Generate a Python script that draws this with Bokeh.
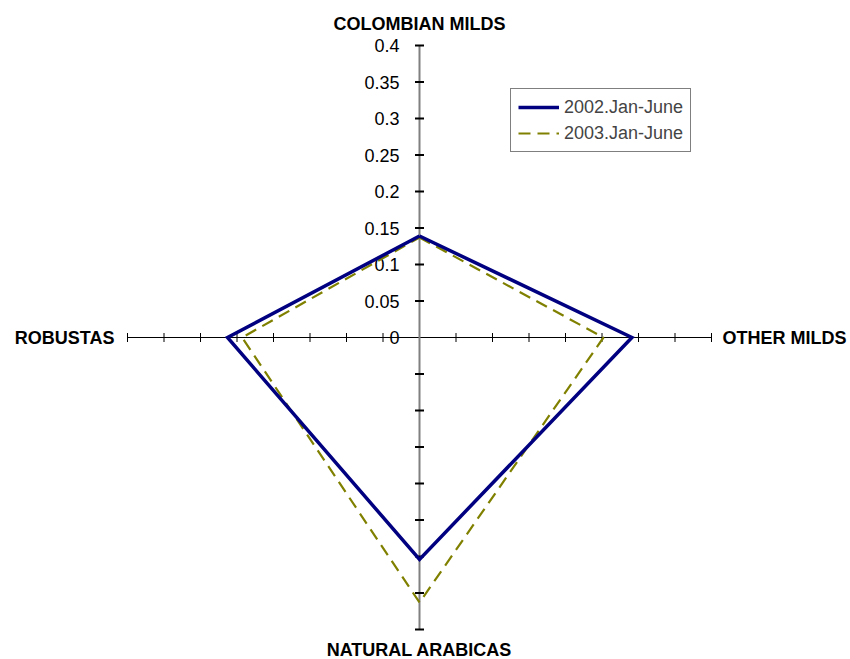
import numpy as np
from bokeh.plotting import figure
from bokeh.models import Range1d, Legend, LegendItem
from bokeh.core.properties import value
from bokeh.embed import file_html
from bokeh.resources import INLINE

# ---- data ----
categories = ["COLOMBIAN MILDS", "OTHER MILDS", "NATURAL ARABICAS", "ROBUSTAS"]
series_names = ["2002.Jan-June", "2003.Jan-June"]
values_2002 = [0.139, 0.291, 0.304, 0.263]
values_2003 = [0.137, 0.252, 0.363, 0.243]
tick_values = [0, 0.05, 0.1, 0.15, 0.2, 0.25, 0.3, 0.35, 0.4]
tick_labels = ["0", "0.05", "0.1", "0.15", "0.2", "0.25", "0.3", "0.35", "0.4"]

# ---- layout ----
W, H = 850, 659
SCALE = 730.0          # pixels per unit
CX, CY = 419, 337      # centre in figure pixels (from top-left)
RMAX = tick_values[-1]
FONT = "Liberation Sans"

angles = np.deg2rad([90, 0, -90, 180])

p = figure(width=W, height=H, output_backend="svg", toolbar_location=None,
           x_range=Range1d(-CX / SCALE, (W - CX) / SCALE),
           y_range=Range1d(-(H - CY) / SCALE, CY / SCALE),
           min_border=0, outline_line_color=None)
p.axis.visible = False
p.grid.visible = False
p.background_fill_color = "white"
p.border_fill_color = "white"

# axes lines
p.line([-RMAX, RMAX], [0, 0], line_color="black", line_width=1)
p.line([0, 0], [-RMAX, RMAX], line_color="#808080", line_width=2)

# ticks
tv = np.array(tick_values[1:])
p.scatter(np.concatenate([tv, -tv]), np.zeros(2 * len(tv)), marker="dash",
          size=9, angle=np.pi / 2, line_color="black", line_width=1)
p.scatter(np.zeros(2 * len(tv)), np.concatenate([tv, -tv]), marker="dash",
          size=9, angle=0, line_color="black", line_width=2)

# tick labels
p.text(x=[0] * len(tick_values), y=tick_values, text=tick_labels,
       text_align="right", text_baseline="middle", x_offset=-20,
       text_font=value(FONT), text_font_size="18px", text_color="black")

# category labels
ex = RMAX * np.cos(angles)
ey = RMAX * np.sin(angles)
aligns = ["center", "left", "center", "right"]
xo = [0, 11, 0, -13]
yo = [-22, 0, 20, 0]
for i, c in enumerate(categories):
    p.text(x=[ex[i]], y=[ey[i]], text=[c], text_align=aligns[i],
           text_baseline="middle", x_offset=xo[i], y_offset=yo[i],
           text_font=value(FONT), text_font_size="18px",
           text_font_style="bold", text_color="black")

def closed(vals):
    v = np.array(vals + vals[:1])
    a = np.concatenate([angles, angles[:1]])
    return v * np.cos(a), v * np.sin(a)

x1, y1 = closed(values_2002)
x2, y2 = closed(values_2003)
r2 = p.line(x2, y2, line_color="#808000", line_width=2.2, line_dash="12 7")
r1 = p.line(x1, y1, line_color="#000080", line_width=3.5, line_join="miter")

legend = Legend(items=[LegendItem(label=series_names[0], renderers=[r1]),
                       LegendItem(label=series_names[1], renderers=[r2])],
                location=(510, 507), padding=7, spacing=4, margin=0,
                glyph_width=41, glyph_height=22, label_height=22,
                label_standoff=5, label_text_font=FONT,
                label_text_font_size="18px", border_line_color="black",
                border_line_width=1, background_fill_color="white",
                background_fill_alpha=1)
p.add_layout(legend)

open("out.html", "w").write(file_html(p, INLINE))
